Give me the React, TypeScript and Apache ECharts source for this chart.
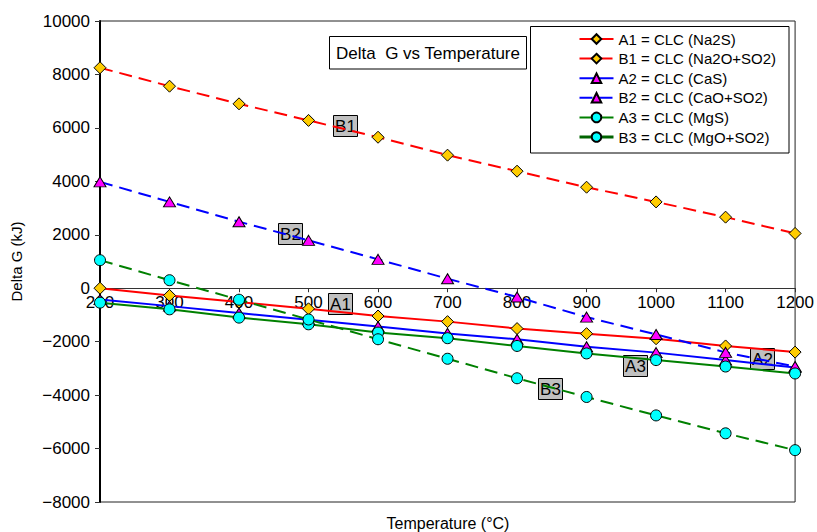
import React, { useEffect, useRef } from "react";
import * as echarts from "echarts";

// Temperature (°C) along the x axis
const temperatures = [200, 300, 400, 500, 600, 700, 800, 900, 1000, 1100, 1200];

// Delta G (kJ) for each reaction
const seriesNames = [
  "A1 = CLC (Na2S)",
  "B1 = CLC (Na2O+SO2)",
  "A2 = CLC (CaS)",
  "B2 = CLC (CaO+SO2)",
  "A3 = CLC (MgS)",
  "B3 = CLC (MgO+SO2)",
];
const a1Values = [0, -270, -520, -770, -1040, -1250, -1510, -1700, -1890, -2160, -2390];
const b1Values = [8250, 7560, 6900, 6280, 5650, 4980, 4380, 3780, 3230, 2660, 2050];
const a2Values = [-420, -670, -930, -1180, -1430, -1690, -1910, -2190, -2410, -2690, -2970];
const b2Values = [3980, 3230, 2490, 1790, 1080, 355, -330, -1080, -1730, -2400, -2930];
const a3Values = [-540, -790, -1100, -1350, -1660, -1870, -2160, -2440, -2690, -2930, -3190];
const b3Values = [1050, 300, -430, -1170, -1910, -2640, -3370, -4070, -4760, -5430, -6060];

// Callout tags placed next to the curves (temperature, delta G)
const calloutTags = [
  { text: "B1", t: 552, g: 6086 },
  { text: "B2", t: 474, g: 2037 },
  { text: "A1", t: 545, g: -585 },
  { text: "A3", t: 970, g: -2923 },
  { text: "A2", t: 1153, g: -2650 },
  { text: "B3", t: 848, g: -3772 },
];

const FONT = "'Liberation Sans', Arial, sans-serif";
const DASH = [13, 7];

const Y_MIN = -8000;
const Y_MAX = 10000;
const GRID_TOP = 21;
const GRID_BOTTOM = 30;
const CHART_H = 532;

function pairs(values: number[]) {
  return temperatures.map((t, i) => [t, values[i]]);
}

export default function App() {
  const ref = useRef<HTMLDivElement>(null);

  useEffect(() => {
    if (!ref.current) return;
    const chart = echarts.init(ref.current, undefined, { renderer: "svg" });

    // the temperature axis is drawn across the plot at delta G = 0
    const plotH = CHART_H - GRID_TOP - GRID_BOTTOM;
    const zeroY = GRID_TOP + (plotH * Y_MAX) / (Y_MAX - Y_MIN);
    const xAxisOffset = -(GRID_TOP + plotH - zeroY);

    const markerBorder = { borderColor: "#000", borderWidth: 1 };
    const diamond = { symbol: "diamond", symbolSize: [12, 12], itemStyle: { color: "#FFCC00", ...markerBorder } };
    const triangle = { symbol: "triangle", symbolSize: [12, 10], itemStyle: { color: "#FF00FF", ...markerBorder } };
    const circle = { symbol: "circle", symbolSize: 11, itemStyle: { color: "#00FFFF", ...markerBorder } };

    const makeSeries = (name: string, values: number[], color: string, dashed: boolean, marker: any) => ({
      name,
      type: "line",
      data: pairs(values),
      showSymbol: true,
      ...marker,
      lineStyle: { color, width: 2, type: dashed ? DASH : "solid" },
      emphasis: { disabled: true },
    });

    chart.setOption({
      animation: false,
      grid: {
        left: 100,
        top: GRID_TOP,
        right: 20,
        bottom: GRID_BOTTOM,
        show: true,
        borderColor: "#222",
        borderWidth: 1,
        backgroundColor: "transparent",
      },
      xAxis: {
        type: "value",
        min: 200,
        max: 1200,
        interval: 100,
        offset: xAxisOffset,
        axisLine: { onZero: false, lineStyle: { color: "#333", width: 1 } },
        axisTick: { show: true, length: 4, lineStyle: { color: "#333" } },
        axisLabel: {
          color: "#000",
          fontSize: 17,
          fontFamily: FONT,
          margin: 6,
          showMinLabel: true,
          showMaxLabel: true,
          formatter: (v: number) => String(v),
        },
        splitLine: { show: false },
      },
      yAxis: {
        type: "value",
        min: Y_MIN,
        max: Y_MAX,
        interval: 2000,
        name: "Delta G (kJ)",
        nameLocation: "middle",
        nameGap: 76,
        nameTextStyle: { color: "#000", fontSize: 15, fontFamily: FONT },
        axisLine: { show: true, lineStyle: { color: "#000", width: 2 } },
        axisTick: { show: true, length: 5, lineStyle: { color: "#333" } },
        axisLabel: {
          color: "#000",
          fontSize: 17,
          fontFamily: FONT,
          margin: 10,
          formatter: (v: number) => (v < 0 ? "\u2212" + Math.abs(v) : String(v)),
        },
        splitLine: { show: false },
      },
      legend: {
        orient: "vertical",
        left: 578,
        top: 31.5,
        padding: 0,
        itemWidth: 34,
        itemHeight: 12,
        itemGap: 4.6,
        selectedMode: false,
        textStyle: { color: "#000", fontSize: 15, fontFamily: FONT },
        data: [
          { name: seriesNames[0] },
          { name: seriesNames[1] },
          { name: seriesNames[2] },
          { name: seriesNames[3] },
          { name: seriesNames[4] },
          { name: seriesNames[5], lineStyle: { type: "solid", width: 3, color: "#006400" } },
        ],
      },
      series: [
        makeSeries(seriesNames[0], a1Values, "#FF0000", false, diamond),
        makeSeries(seriesNames[1], b1Values, "#FF0000", true, diamond),
        makeSeries(seriesNames[2], a2Values, "#0000FF", false, triangle),
        makeSeries(seriesNames[3], b2Values, "#0000FF", true, triangle),
        makeSeries(seriesNames[4], a3Values, "#008000", false, circle),
        makeSeries(seriesNames[5], b3Values, "#008000", true, circle),
      ],
    });

    const tags: any[] = [];
    calloutTags.forEach((c) => {
      const p = chart.convertToPixel({ gridIndex: 0 }, [c.t, c.g]) as number[];
      tags.push({
        type: "group",
        x: Math.round(p[0]) - 12,
        y: Math.round(p[1]) - 11,
        z: 10,
        children: [
          {
            type: "rect",
            shape: { x: 0.5, y: 0.5, width: 24, height: 21 },
            style: { fill: "#C0C0C0", stroke: "#000", lineWidth: 1 },
          },
          {
            type: "text",
            x: 12.5,
            y: 11.5,
            style: {
              text: c.text,
              fill: "#000",
              font: `17px ${FONT}`,
              align: "center",
              verticalAlign: "middle",
            },
          },
        ],
      });
    });

    chart.setOption({
      graphic: [
        // legend frame
        {
          type: "rect",
          z: 3,
          shape: { x: 530.5, y: 26.5, width: 258.5, height: 126.5 },
          style: { fill: "#fff", stroke: "#000", lineWidth: 1 },
        },
        // title frame
        {
          type: "rect",
          z: 3,
          shape: { x: 329.5, y: 36.5, width: 197, height: 32.5 },
          style: { fill: "#fff", stroke: "#000", lineWidth: 1 },
        },
        {
          type: "text",
          z: 4,
          x: 428,
          y: 53,
          style: {
            text: "Delta  G vs Temperature",
            fill: "#000",
            font: `17px ${FONT}`,
            align: "center",
            verticalAlign: "middle",
          },
        },
        // x axis title, placed under the plot frame
        {
          type: "text",
          z: 4,
          x: 448,
          y: 523,
          style: {
            text: "Temperature (\u00B0C)",
            fill: "#000",
            font: `16px ${FONT}`,
            align: "center",
            verticalAlign: "middle",
          },
        },
        ...tags,
      ],
    });

    return () => chart.dispose();
  }, []);

  return (
    <div
      ref={ref}
      style={{ position: "fixed", left: 0, top: 0, width: 817, height: 532, background: "#fff" }}
    />
  );
}
